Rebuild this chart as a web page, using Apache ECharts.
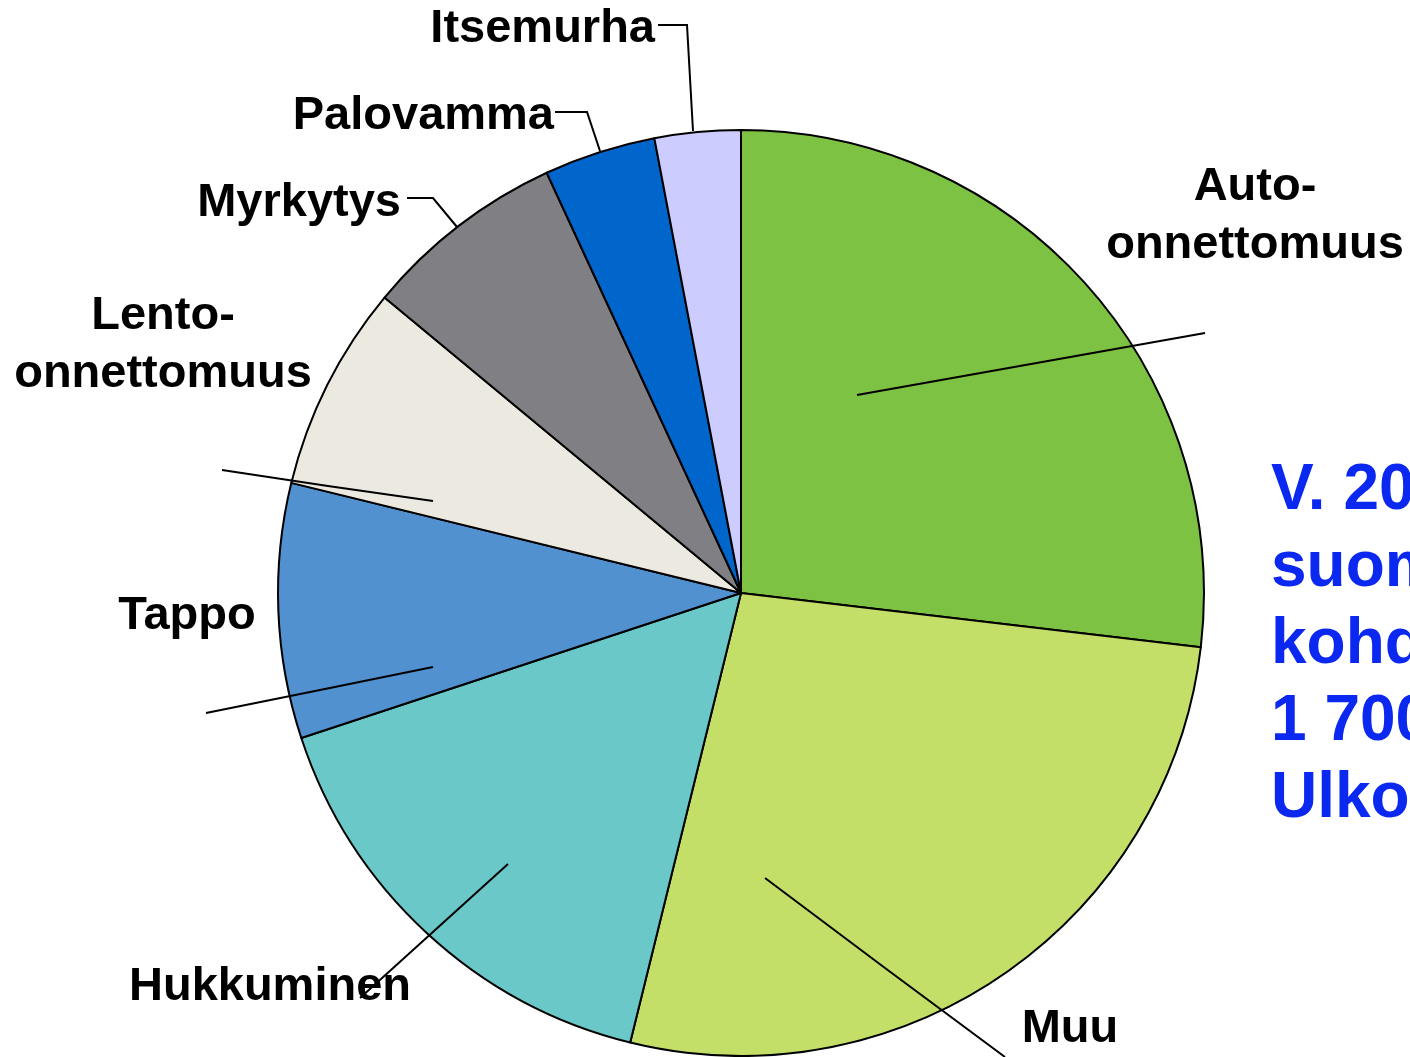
<!DOCTYPE html>
<html>
<head>
<meta charset="utf-8">
<script src="https://cdn.jsdelivr.net/npm/echarts@6/dist/echarts.min.js"></script>
<style>
  html, body { margin: 0; padding: 0; background: #fff; }
  #chart { width: 1410px; height: 1057px; }
</style>
</head>
<body>
<div id="chart"></div>
<script>
// slices clockwise from 12 o'clock
const categories = ['Auto-\nonnettomuus', 'Muu', 'Hukkuminen', 'Tappo', 'Lento-\nonnettomuus', 'Myrkytys', 'Palovamma', 'Itsemurha']
const shares = [26.9, 27.0, 16.1, 8.9, 7.2, 7.1, 3.9, 3.0]
const sideText = ['V. 20', 'suom', 'kohd', '1 700', 'Ulko']

const colors = ['#7DC242', '#C3DF67', '#6BC8C8', '#5291CF', '#ECEAE0', '#807F84', '#0066CC', '#CCCCFF']

// label placement + leader lines (Excel style)
const labelPlacement = [
  { x: 1255, y: 216, align: 'center', line: [[857, 395], [1031, 364], [1205, 333]] },
  { x: 1070, y: 1029, align: 'center', line: [[765, 878], [885, 968], [1005, 1057]] },
  { x: 270, y: 987, align: 'center', line: [[508, 864], [434, 931], [360, 998]] },
  { x: 187, y: 616, align: 'center', line: [[433, 667], [320, 690], [206, 713]] },
  { x: 163, y: 345, align: 'center', line: [[433, 501], [328, 486], [222, 470]] },
  { x: 401, y: 203, align: 'right', line: [[457, 227], [433, 198], [407, 198]] },
  { x: 554, y: 116, align: 'right', line: [[600, 151], [587, 112], [555, 112]] },
  { x: 655, y: 29, align: 'right', line: [[693, 131], [687, 25], [658, 25]] },
]

const chart = echarts.init(document.getElementById('chart'), null, { renderer: 'canvas' })

const pieBase = {
  type: 'pie',
  center: [741, 593],
  radius: 463,
  startAngle: 90,
  clockwise: true,
  avoidLabelOverlap: false,
  silent: true,
  emphasis: { disabled: true },
}

const option = {
  animation: false,
  backgroundColor: '#fff',
  graphic: [{
    type: 'text',
    left: 1271,
    top: 453,
    style: {
      text: sideText.join('\n'),
      font: 'bold 64px "Liberation Sans", Arial, sans-serif',
      fill: '#0A28F0',
      lineHeight: 77,
    },
  }],
  series: [
    {
      // filled slices
      ...pieBase,
      z: 2,
      data: categories.map((name, i) => ({
        name,
        value: shares[i],
        itemStyle: { color: colors[i] },
      })),
      itemStyle: { borderColor: '#000', borderWidth: 2 },
      label: { show: false },
      labelLine: { show: false },
    },
    {
      // same pie, transparent, carries labels + leader lines on top
      ...pieBase,
      z: 3,
      data: categories.map((name, i) => ({ name, value: shares[i] })),
      itemStyle: { color: 'rgba(0,0,0,0)', borderWidth: 0 },
      label: {
        show: true,
        position: 'outside',
        formatter: '{b}',
        color: '#000',
        fontFamily: '"Liberation Sans", Arial, sans-serif',
        fontWeight: 'bold',
        fontSize: 47,
        lineHeight: 58,
      },
      labelLine: {
        show: true,
        smooth: false,
        lineStyle: { color: '#000', width: 2 },
      },
      labelLayout: params => {
        const p = labelPlacement[params.dataIndex]
        return {
          x: p.x,
          y: p.y,
          align: p.align,
          verticalAlign: 'middle',
          labelLinePoints: p.line,
        }
      },
    },
  ],
}

chart.setOption(option)
</script>
</body>
</html>
